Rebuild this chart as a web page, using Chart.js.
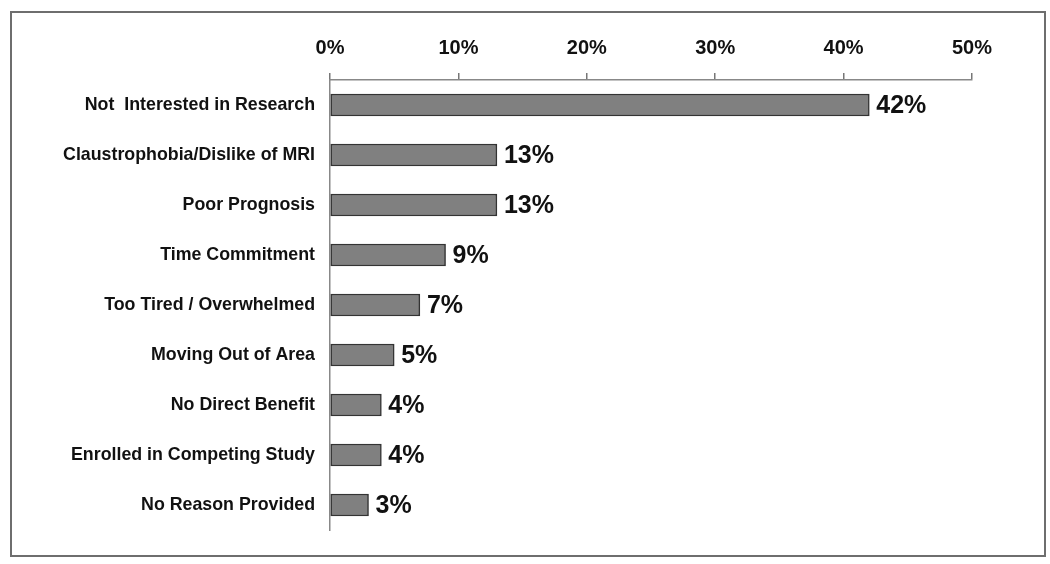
<!DOCTYPE html>
<html>
<head>
<meta charset="utf-8">
<script src="https://cdn.jsdelivr.net/npm/chart.js@4.4.1/dist/chart.umd.min.js"></script>
<style>
  body { margin: 0; background: #fff; }
  #wrap { position: relative; width: 1050px; height: 564px; }
  #frame {
    position: absolute; left: 10px; top: 11px; width: 1032px; height: 542px;
    border: 2px solid #6e6e6e; pointer-events: none;
  }
  canvas { position: absolute; left: 0; top: 0; }
</style>
</head>
<body>
<div id="wrap">
  <canvas id="reasonschart" width="1050" height="564"></canvas>
  <div id="frame"></div>
</div>
<script>
const reasons = [
  'Not  Interested in Research',
  'Claustrophobia/Dislike of MRI',
  'Poor Prognosis',
  'Time Commitment',
  'Too Tired / Overwhelmed',
  'Moving Out of Area',
  'No Direct Benefit',
  'Enrolled in Competing Study',
  'No Reason Provided'
]
const percents = [42, 13, 13, 9, 7, 5, 4, 4, 3]
const tickValues = [0, 10, 20, 30, 40, 50]

const fontFamily = "'Liberation Sans', Arial, sans-serif"

// write the % next to each bar
const valueLabels = {
  id: 'valueLabels',
  afterDatasetsDraw(chart) {
    const ctx = chart.ctx
    const meta = chart.getDatasetMeta(0)
    ctx.save()
    ctx.font = 'bold 25px ' + fontFamily
    ctx.fillStyle = '#111'
    ctx.textAlign = 'left'
    ctx.textBaseline = 'middle'
    meta.data.forEach(function(bar, i){
      ctx.fillText(percents[i] + '%', bar.x + 7, bar.y + 1)
    })
    ctx.restore()
  }
}

function drawreasonschart(){
  const canvasforreasons = document.getElementById('reasonschart')
  new Chart(canvasforreasons, {
    type: 'bar',
    data: {
      labels: reasons,
      datasets: [{
        data: percents,
        backgroundColor: '#808080',
        borderColor: '#333',
        borderWidth: 1.5,
        borderSkipped: false,
        barThickness: 22
      }]
    },
    options: {
      indexAxis: 'y',
      responsive: false,
      animation: false,
      layout: { padding: { left: 0, top: 0, right: 78, bottom: 34 } },
      plugins: { legend: { display: false }, tooltip: { enabled: false } },
      scales: {
        x: {
          position: 'top',
          min: 0,
          max: 50,
          afterBuildTicks: function(scale){
            scale.ticks = tickValues.map(function(v){ return { value: v } })
          },
          afterFit: function(scale){ scale.height = 80 },
          grid: {
            drawOnChartArea: false,
            drawTicks: true,
            tickLength: 7,
            color: '#777',
            lineWidth: 1.5
          },
          border: { display: true, color: '#888', width: 1.5 },
          ticks: {
            padding: 13,
            color: '#111',
            font: { family: fontFamily, size: 20, weight: 'bold' },
            callback: function(v){ return v + '%' }
          }
        },
        y: {
          afterFit: function(scale){ scale.width = 330 },
          grid: { display: false, drawTicks: false },
          border: { display: true, color: '#888', width: 1.5 },
          ticks: {
            padding: 15,
            color: '#111',
            font: { family: fontFamily, size: 17.8, weight: 'bold' }
          }
        }
      }
    },
    plugins: [valueLabels]
  })
}

drawreasonschart()
</script>
</body>
</html>
